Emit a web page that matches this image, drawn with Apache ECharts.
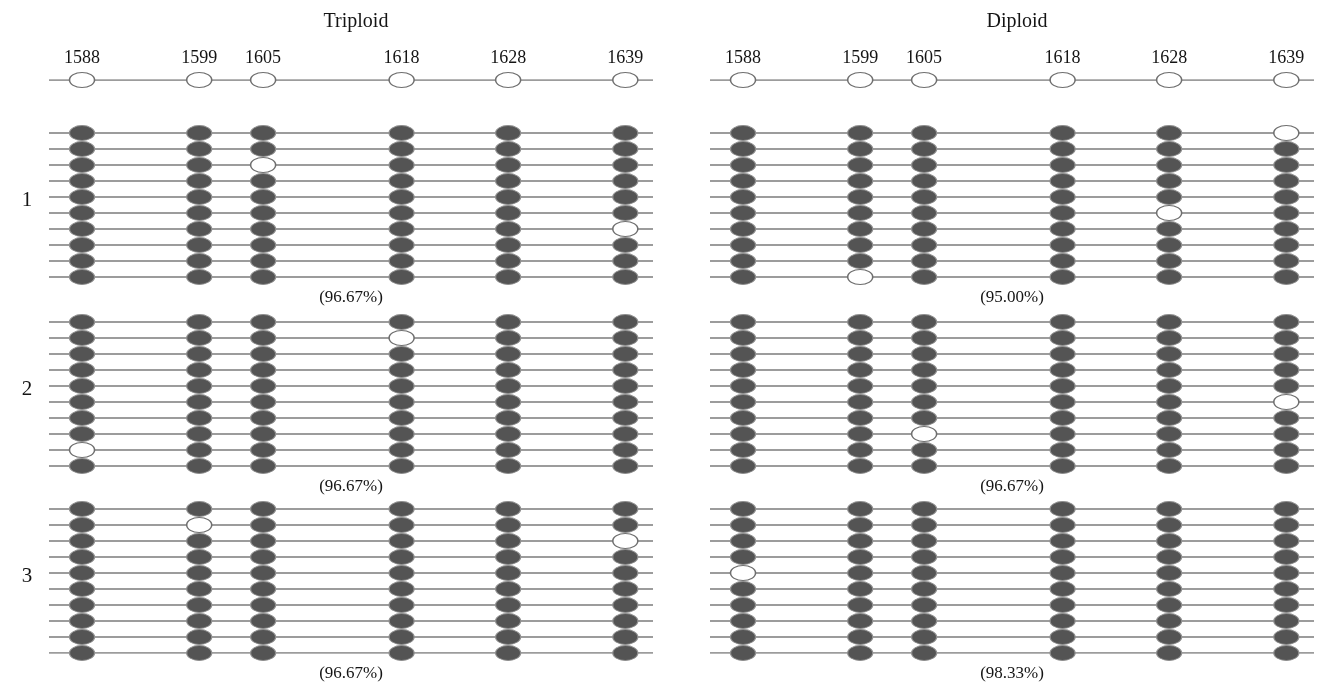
<!DOCTYPE html>
<html><head><meta charset="utf-8">
<script src="https://cdn.jsdelivr.net/npm/echarts@6/dist/echarts.min.js"></script>
<style>html,body{margin:0;padding:0;background:#fff}#c{width:1318px;height:688px}</style>
</head><body><div id="c"></div>
<script>
// CpG site positions
const sites = [1588, 1599, 1605, 1618, 1628, 1639];
const panelTitles = ['Triploid', 'Diploid'];
const groupLabels = ['1', '2', '3'];
// 1 = methylated (filled ellipse), 0 = unmethylated (open ellipse); one string per clone
const triploid1 = ['111111','111111','110111','111111','111111','111111','111110','111111','111111','111111'];
const triploid2 = ['111111','111011','111111','111111','111111','111111','111111','111111','011111','111111'];
const triploid3 = ['111111','101111','111110','111111','111111','111111','111111','111111','111111','111111'];
const diploid1  = ['111110','111111','111111','111111','111111','111101','111111','111111','111111','101111'];
const diploid2  = ['111111','111111','111111','111111','111111','111110','111111','110111','111111','111111'];
const diploid3  = ['111111','111111','111111','111111','011111','111111','111111','111111','111111','111111'];
const panelData = [[triploid1, triploid2, triploid3], [diploid1, diploid2, diploid3]];

// layout (row units, 1 unit = one clone line spacing)
const groupStart = [3.3125, 15.125, 26.8125];
const X_MIN = 1584.9, X_MAX = 1641.6;
const gridLefts = [49, 710];
const FONT = '"Liberation Serif", "Times New Roman", serif';
const TXT = '#141414';
const ELL = [25, 15];

const grids = [], xAxes = [], yAxes = [], series = [], titles = [];
panelTitles.forEach((t, p) => {
  grids.push({left: gridLefts[p], top: 80, width: 604, height: 573});
  xAxes.push({type: 'value', gridIndex: p, min: X_MIN, max: X_MAX, show: false});
  yAxes.push({type: 'value', gridIndex: p, min: 0, max: 35.8125, inverse: true, show: false});
  titles.push({text: t, left: gridLefts[p] + 302, top: 7, textAlign: 'center',
    textStyle: {fontFamily: FONT, fontSize: 20, fontWeight: 'normal', color: TXT}});

  const rowsY = [0];
  const filled = [], open = [], pct = [];
  panelData[p].forEach((grp, g) => {
    let m = 0, n = 0;
    grp.forEach((row, r) => {
      const y = groupStart[g] + r;
      rowsY.push(y);
      row.split('').forEach((c, k) => {
        n++;
        if (c === '1') { m++; filled.push([sites[k], y]); } else open.push([sites[k], y]);
      });
    });
    pct.push({value: [(X_MIN + X_MAX) / 2, groupStart[g] + 9 + 1.3], txt: '(' + (m / n * 100).toFixed(2) + '%)'});
  });

  series.push({
    type: 'lines', coordinateSystem: 'cartesian2d', xAxisIndex: p, yAxisIndex: p, silent: true, z: 1,
    lineStyle: {color: '#7b7b7b', width: 1.7, opacity: 1},
    data: rowsY.map(y => ({coords: [[X_MIN, y], [X_MAX, y]]}))
  });
  series.push({
    type: 'scatter', xAxisIndex: p, yAxisIndex: p, clip: false, z: 3, silent: true,
    symbol: 'circle', symbolSize: ELL,
    itemStyle: {color: '#ffffff', borderColor: '#6f6f6f', borderWidth: 1.2, opacity: 1},
    label: {show: true, position: 'top', distance: 5, formatter: d => String(d.value[0]),
      fontFamily: FONT, fontSize: 18, color: TXT},
    data: sites.map(s => [s, 0])
  });
  series.push({
    type: 'scatter', xAxisIndex: p, yAxisIndex: p, clip: false, z: 3, silent: true,
    symbol: 'circle', symbolSize: ELL,
    itemStyle: {color: '#545454', borderColor: '#8f8f8f', borderWidth: 1, opacity: 1},
    data: filled
  });
  series.push({
    type: 'scatter', xAxisIndex: p, yAxisIndex: p, clip: false, z: 3, silent: true,
    symbol: 'circle', symbolSize: ELL,
    itemStyle: {color: '#ffffff', borderColor: '#6f6f6f', borderWidth: 1.2, opacity: 1},
    data: open
  });
  series.push({
    type: 'scatter', xAxisIndex: p, yAxisIndex: p, clip: false, z: 4, silent: true,
    symbolSize: 0, itemStyle: {opacity: 1},
    label: {show: true, position: 'inside', formatter: d => d.data.txt,
      fontFamily: FONT, fontSize: 17, color: TXT},
    data: pct
  });
  if (p === 0) {
    series.push({
      type: 'scatter', xAxisIndex: 0, yAxisIndex: 0, clip: false, z: 4, silent: true,
      symbolSize: 0, itemStyle: {opacity: 1},
      label: {show: true, position: 'inside', formatter: d => d.data.txt,
        fontFamily: FONT, fontSize: 21, color: TXT},
      data: groupLabels.map((l, g) => ({value: [X_MIN - 2.07, groupStart[g] + 4.2], txt: l}))
    });
  }
});

const chart = echarts.init(document.getElementById('c'), null, {renderer: 'canvas'});
chart.setOption({
  animation: false,
  backgroundColor: '#ffffff',
  title: titles,
  grid: grids, xAxis: xAxes, yAxis: yAxes, series: series
});
</script></body></html>
